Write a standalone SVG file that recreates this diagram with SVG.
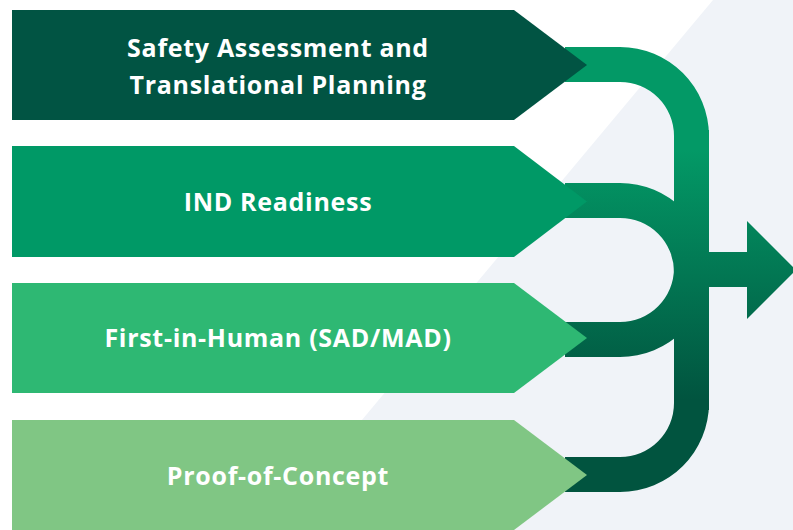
<svg xmlns="http://www.w3.org/2000/svg" width="793" height="530" viewBox="0 0 793 530">
  <defs>
    <linearGradient id="flow" gradientUnits="userSpaceOnUse" x1="0" y1="150" x2="0" y2="400">
      <stop offset="0" stop-color="#039966"/>
      <stop offset="1" stop-color="#01543F"/>
    </linearGradient>
    <style>
      .lbl { font-family: "Open Sans", "Liberation Sans", sans-serif; font-weight: 700; font-size: 25px; letter-spacing: 0.7px; fill: #FFFFFF; text-anchor: middle; }
      .flow { fill: url(#flow); }
    </style>
  </defs>
  <rect x="0" y="0" width="793" height="530" fill="#FFFFFF"/>
  <polygon points="713,0 793,0 793,530 270,530" fill="#F0F3F8"/>

  <g id="connectors">
    <path class="flow" d="M565,47 H620 A89 89 0 0 1 709,136 V140 H674 V136 A54 54 0 0 0 620,82 H565 Z"/>
    <path class="flow" d="M565,183 H620 A89 89 0 0 1 709,272 H674 A54 54 0 0 0 620,218 H565 Z"/>
    <path class="flow" d="M565,322 H620 A54 54 0 0 0 674,268 H709 A89 89 0 0 1 620,357 H565 Z"/>
    <path class="flow" d="M565,457 H620 A54 54 0 0 0 674,403 H709 A89 89 0 0 1 620,492 H565 Z"/>
    <rect class="flow" x="674" y="130" width="35" height="280"/>
    <path class="flow" d="M700,252 H747 V221 L796,270 L747,319 V287 H700 Z"/>
  </g>

  <g id="step1">
    <polygon points="12,10 514,10 587,65 514,120 12,120" fill="#015443"/>
    <text class="lbl" x="278" y="57">Safety Assessment and</text>
    <text class="lbl" x="278" y="94">Translational Planning</text>
  </g>
  <g id="step2">
    <polygon points="12,146 514,146 587,201.5 514,257 12,257" fill="#009966"/>
    <text class="lbl" x="278" y="211">IND Readiness</text>
  </g>
  <g id="step3">
    <polygon points="12,283 514,283 587,338 514,393 12,393" fill="#2EB873"/>
    <text class="lbl" x="278" y="347">First-in-Human (SAD/MAD)</text>
  </g>
  <g id="step4">
    <polygon points="12,420 514,420 587,475 514,530 12,530" fill="#80C684"/>
    <text class="lbl" x="278" y="485">Proof-of-Concept</text>
  </g>
</svg>
